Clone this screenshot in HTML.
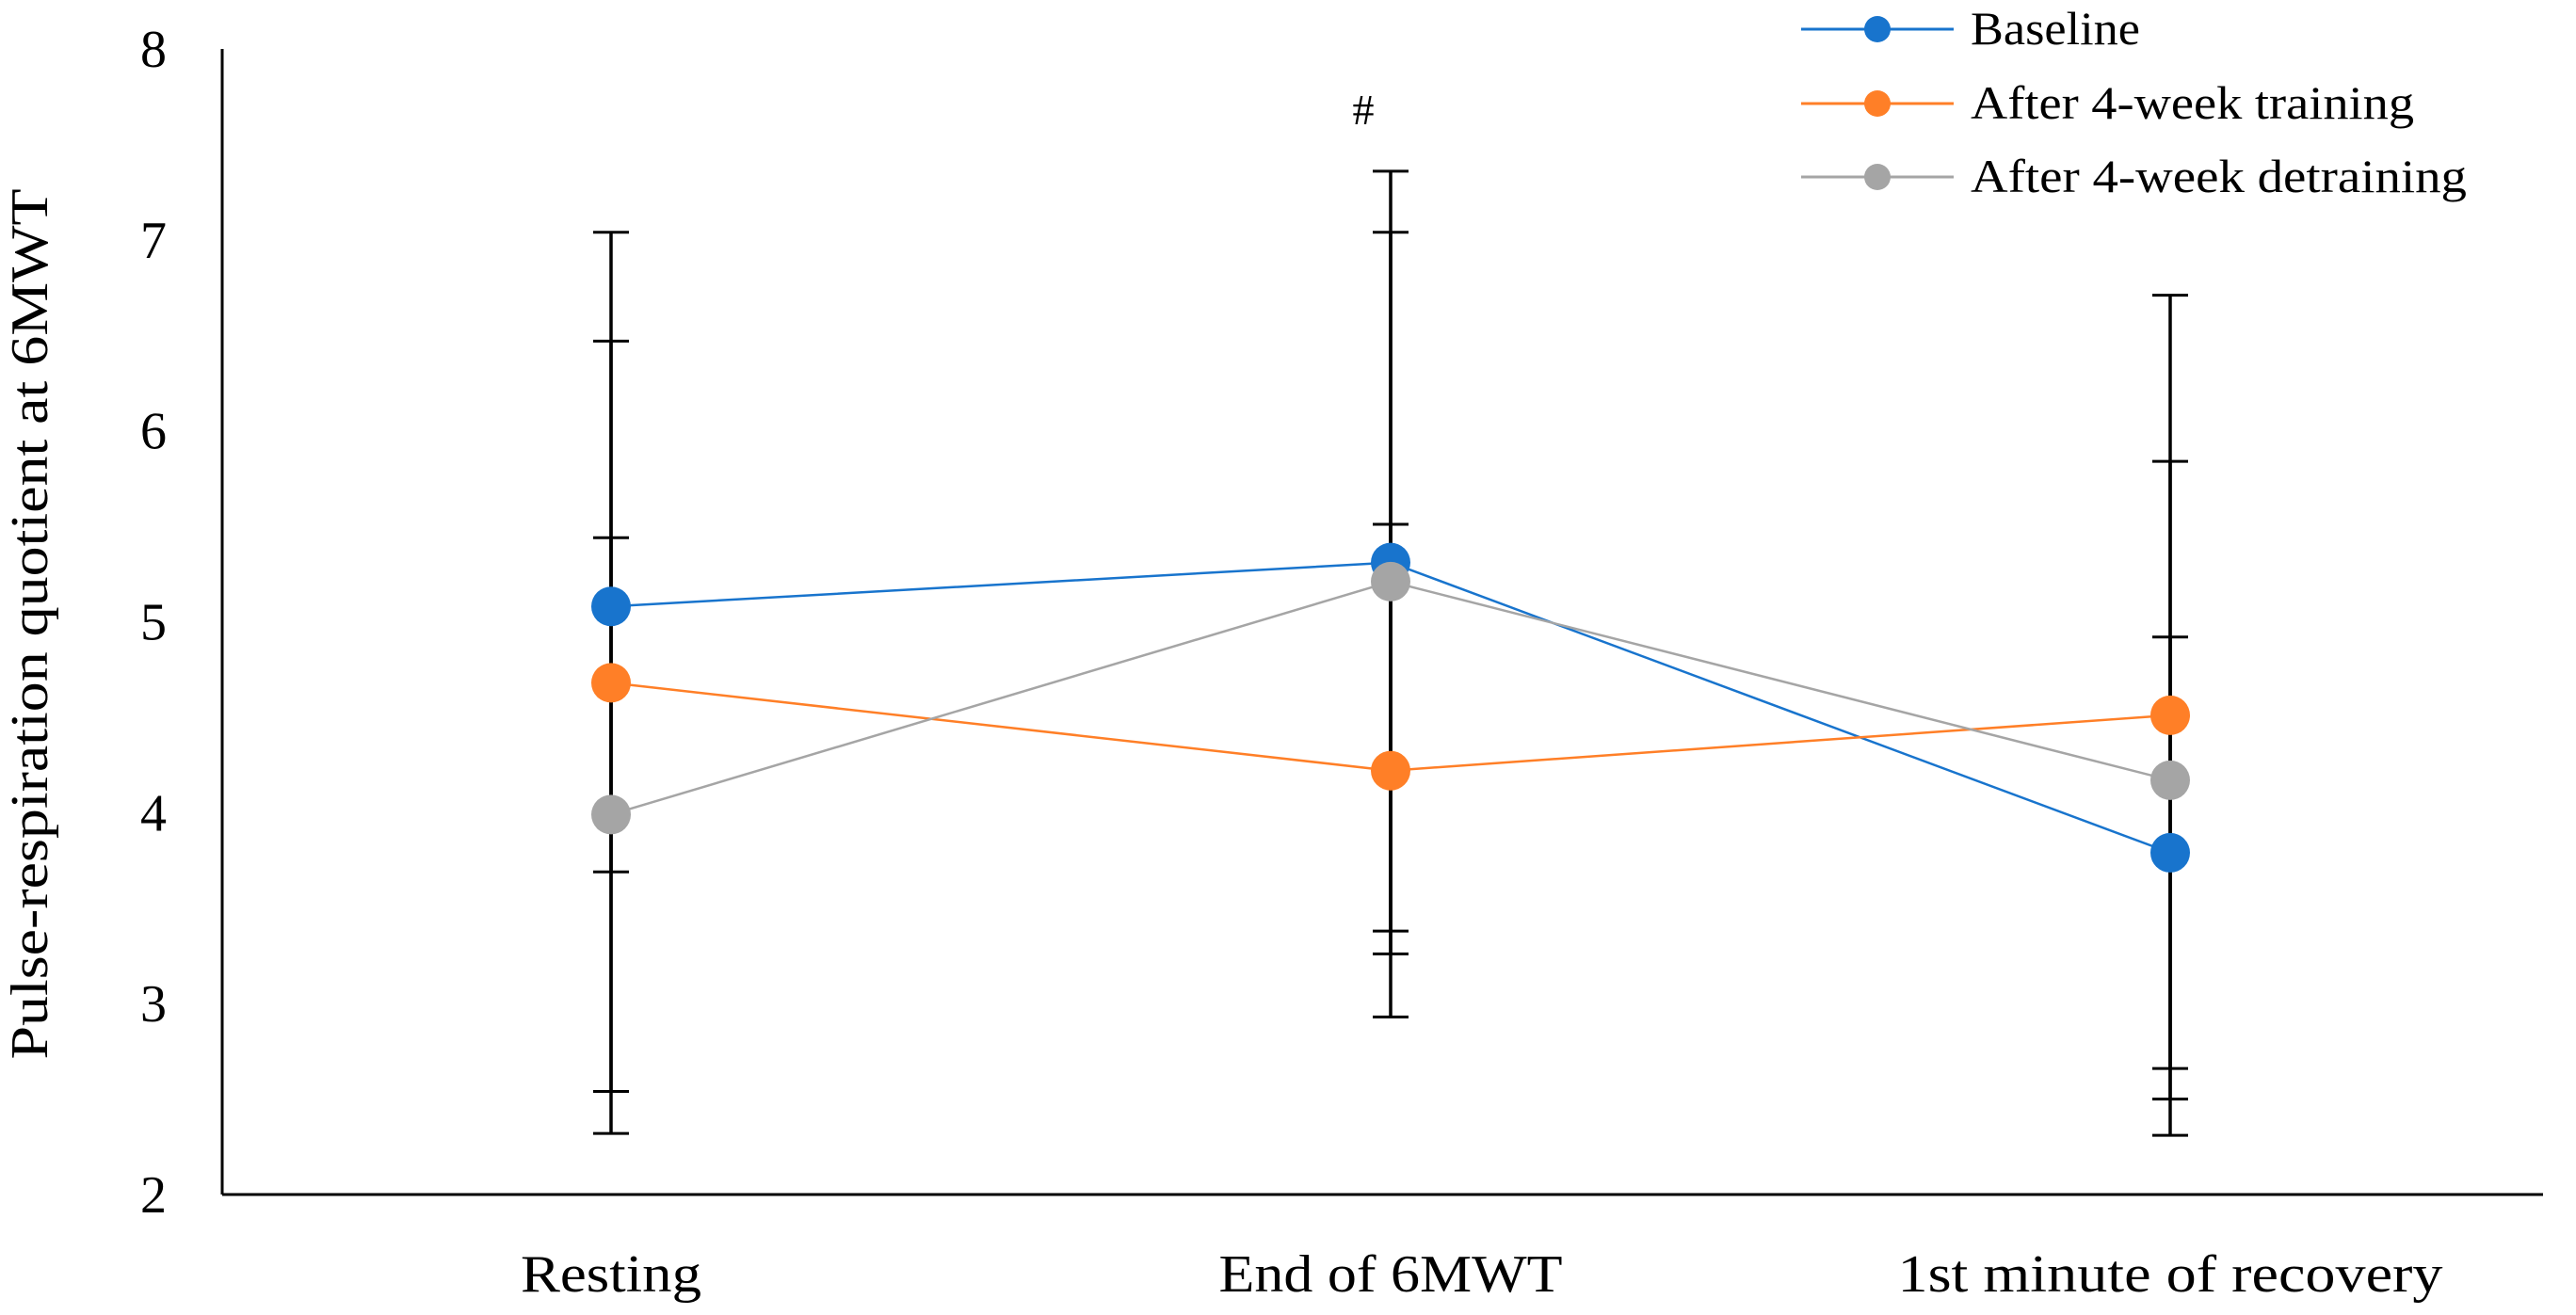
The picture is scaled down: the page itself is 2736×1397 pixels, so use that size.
<!DOCTYPE html>
<html><head><meta charset="utf-8"><style>
html,body{margin:0;padding:0;background:#fff}
svg{display:block}
text{font-family:"Liberation Serif",serif;fill:#000}
</style></head><body>
<svg id="chart" width="2736" height="1397" viewBox="0 0 2736 1397" xmlns="http://www.w3.org/2000/svg">
<g id="axes"></g>
<g id="bars"></g>
<g id="series"></g>
<text x="1448" y="132" font-size="46" text-anchor="middle">#</text>
<text transform="translate(50,663) rotate(-90)" font-size="56" text-anchor="middle" textLength="925" lengthAdjust="spacingAndGlyphs">Pulse-respiration quotient at 6MWT</text>
<g id="legend"></g>
</svg>
<script>
const categories = ["Resting", "End of 6MWT", "1st minute of recovery"];
const seriesNames = ["Baseline", "After 4-week training", "After 4-week detraining"];
const baseline = [5.08, 5.31, 3.79];
const training = [4.68, 4.22, 4.51];
const detraining = [3.99, 5.21, 4.17];
const baselineErr = [1.39, 2.05, 1.13];
const trainingErr = [2.36, 1.29, 2.20];
const detrainingErr = [1.45, 1.83, 1.67];
const yTicks = [2, 3, 4, 5, 6, 7, 8];

const catLens = [192, 365, 579];
const legLens = [180, 471, 527];
const colors = ["#1874cd", "#ff7f27", "#a5a5a5"];
const NS = "http://www.w3.org/2000/svg";
const X0 = 236, X1 = 2701, Y0 = 1269, Y1 = 52, YMIN = 2, YMAX = 8;
function yScale(v){ return Y0 - (v - YMIN) / (YMAX - YMIN) * (Y0 - Y1); }
function xScale(i){ return 649 + i * 828; }
function mk(tag, attrs, parent){
  const e = document.createElementNS(NS, tag);
  for (const k in attrs) e.setAttribute(k, attrs[k]);
  parent.appendChild(e); return e;
}
const axes = document.getElementById('axes');
let e = mk('line', {x1:X0, y1:Y1, x2:X0, y2:Y0, stroke:'#000', 'stroke-width':3}, axes);


e = mk('line', {x1:X0, y1:Y0, x2:X1, y2:Y0, stroke:'#000', 'stroke-width':3}, axes);


yTicks.forEach(t => {
  const tx = mk('text', {x:163, y:yScale(t) + 19, 'font-size':56, 'text-anchor':'middle'}, axes);
  tx.textContent = t;
  
  
});
categories.forEach((c, i) => {
  const tx = mk('text', {x:xScale(i), y:1372, 'font-size':56, 'text-anchor':'middle', textLength:catLens[i], lengthAdjust:'spacingAndGlyphs'}, axes);
  tx.textContent = c;
  
  
});
const data = [baseline, training, detraining];
const errs = [baselineErr, trainingErr, detrainingErr];
const barsG = document.getElementById('bars');
data.forEach((vals, s) => {
  vals.forEach((v, i) => {
    const x = xScale(i), hi = yScale(v + errs[s][i]), lo = yScale(v - errs[s][i]);
    const g = mk('g', {}, barsG);
    
    
    mk('line', {x1:x, y1:hi, x2:x, y2:lo, stroke:'#000', 'stroke-width':3.5}, g);
    mk('line', {x1:x-19, y1:hi, x2:x+19, y2:hi, stroke:'#000', 'stroke-width':3}, g);
    mk('line', {x1:x-19, y1:lo, x2:x+19, y2:lo, stroke:'#000', 'stroke-width':3}, g);
  });
});
const seriesG = document.getElementById('series');
data.forEach((vals, s) => {
  const pts = vals.map((v, i) => xScale(i) + ',' + yScale(v)).join(' ');
  const pl = mk('polyline', {points:pts, fill:'none', stroke:colors[s], 'stroke-width':2.5}, seriesG);
  
  
});
data.forEach((vals, s) => {
  vals.forEach((v, i) => {
    const c = mk('circle', {cx:xScale(i), cy:yScale(v), r:21, fill:colors[s]}, seriesG);
    
    
  });
});
const leg = document.getElementById('legend');
const legY = [31, 110, 188];
seriesNames.forEach((n, s) => {
  const g = mk('g', {}, leg);
  
  
  mk('line', {x1:1913, y1:legY[s], x2:2075, y2:legY[s], stroke:colors[s], 'stroke-width':3}, g);
  mk('circle', {cx:1994, cy:legY[s], r:14, fill:colors[s]}, g);
  const t = mk('text', {x:2093, y:legY[s] + 16, 'font-size':50, textLength:legLens[s], lengthAdjust:'spacingAndGlyphs'}, g);
  t.textContent = n;
});
</script>
</body></html>
